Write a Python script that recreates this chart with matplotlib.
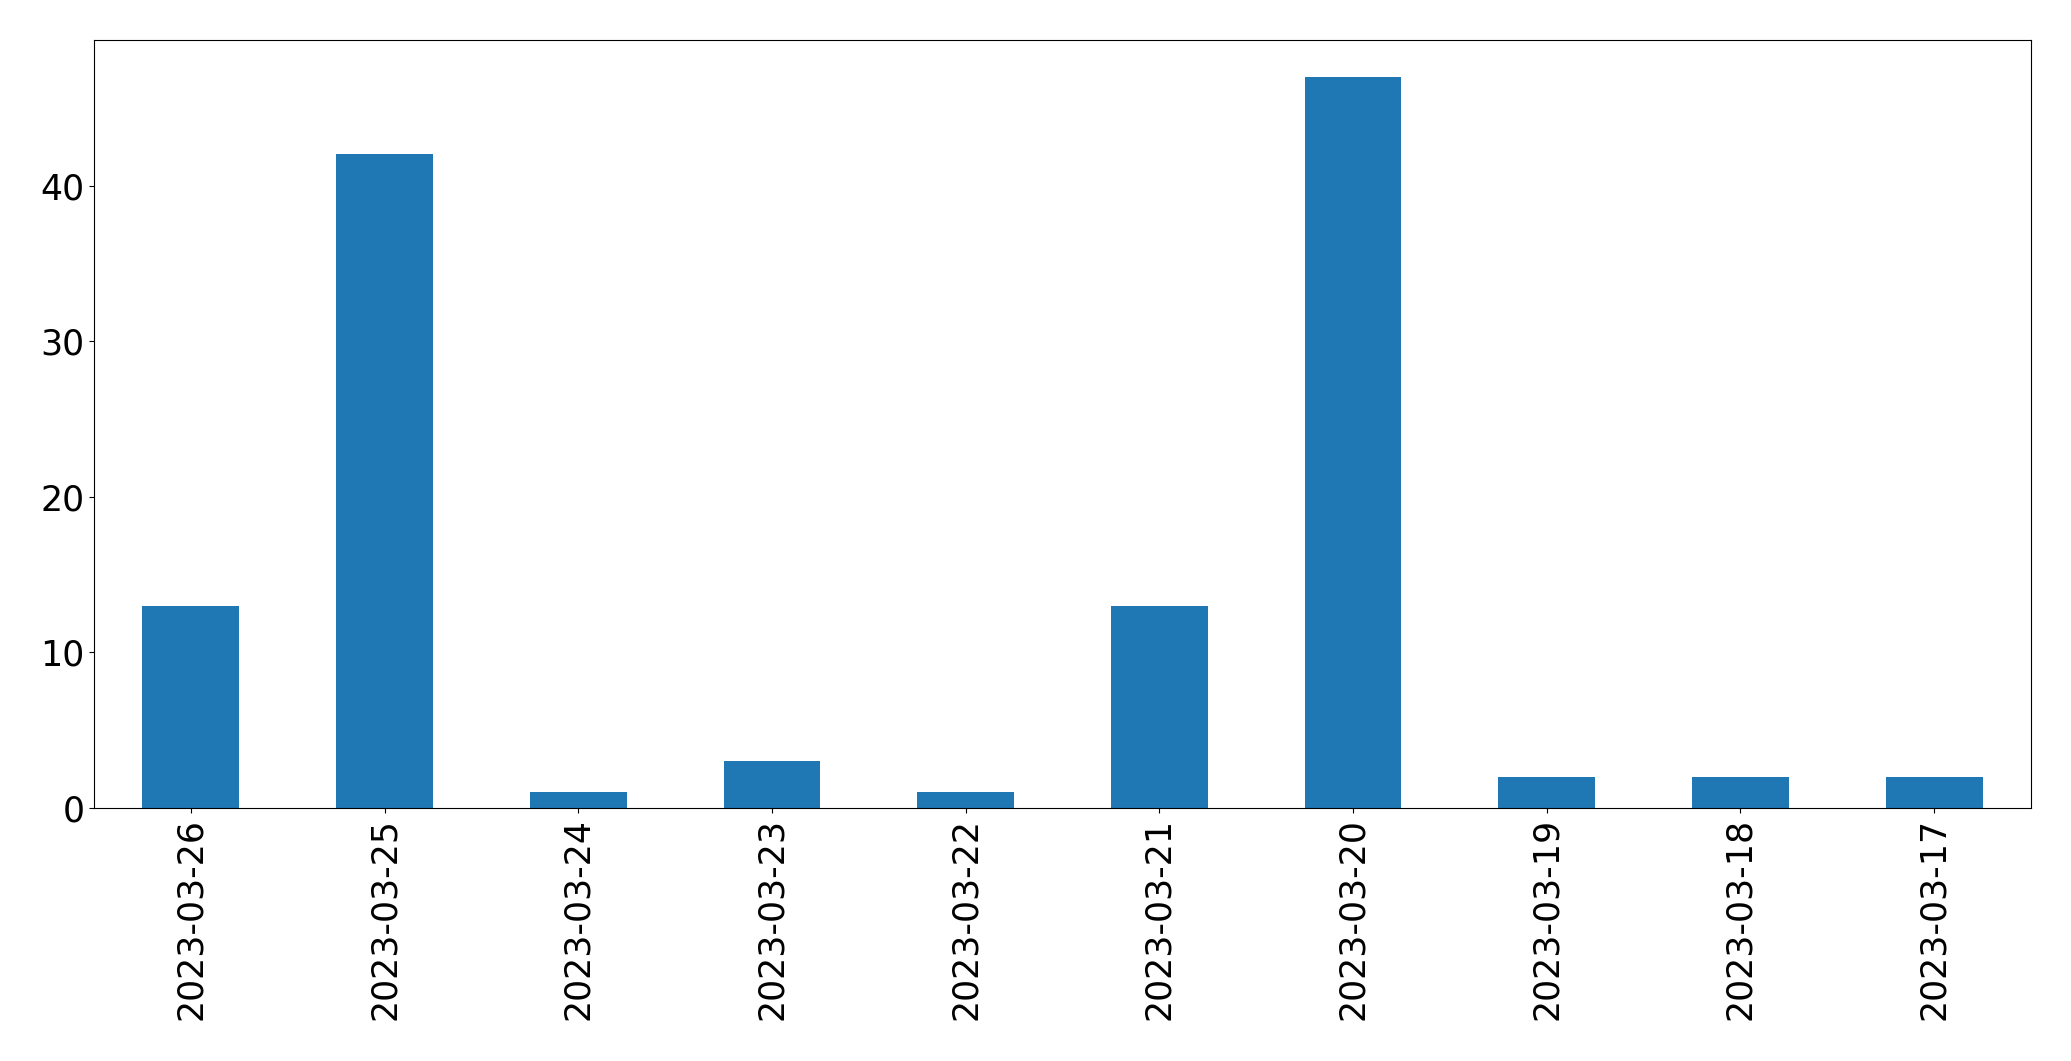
import matplotlib
matplotlib.use("Agg")
import matplotlib.pyplot as plt
import numpy as np

dates = ["2023-03-26", "2023-03-25", "2023-03-24", "2023-03-23", "2023-03-22",
         "2023-03-21", "2023-03-20", "2023-03-19", "2023-03-18", "2023-03-17"]
counts = [13, 42, 1, 3, 1, 13, 47, 2, 2, 2]

fig = plt.figure(figsize=(20.71, 10.61), dpi=100)
ax = fig.add_axes([94/2071, 1-808/1061, (2031-94)/2071, (808-40)/1061])
x = np.arange(len(dates))
ax.bar(x, counts, width=0.5, color="#1f77b4")
ax.set_xlim(-0.5, len(dates) - 0.5)
ax.set_ylim(0, max(counts) * 1.05)
ax.set_xticks(x)
ax.set_xticklabels(dates, rotation=90)
ax.set_yticks([0, 10, 20, 30, 40])
ax.tick_params(labelsize=25)
fig.savefig("out.png", dpi=100)
